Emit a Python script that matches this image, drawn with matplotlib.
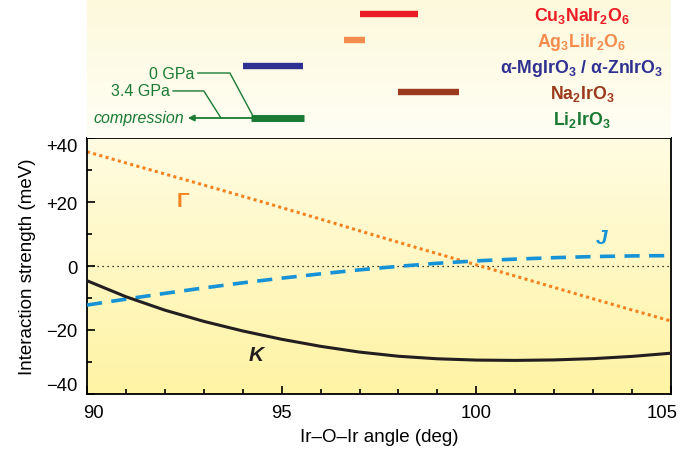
import numpy as np
import matplotlib
matplotlib.use("Agg")
import matplotlib.pyplot as plt
from matplotlib.colors import LinearSegmentedColormap
from matplotlib.transforms import ScaledTranslation

plt.rcParams['font.family'] = ['Liberation Sans', 'DejaVu Sans']
plt.rcParams['mathtext.fontset'] = 'custom'
plt.rcParams['mathtext.rm'] = 'Liberation Sans'
plt.rcParams['mathtext.it'] = 'Liberation Sans:italic'
plt.rcParams['mathtext.bf'] = 'Liberation Sans:bold'
plt.rcParams['mathtext.default'] = 'bf'

# values
angle = [90, 91, 92, 93, 94, 95, 96, 97, 98, 99, 100, 101, 102, 103, 104, 105]
K = [-4.6, -9.6, -13.8, -17.3, -20.3, -22.9, -25.1, -26.9, -28.2, -29.0,
     -29.4, -29.5, -29.35, -28.95, -28.25, -27.25]
J = [-12.2, -10.35, -8.55, -6.85, -5.25, -3.8, -2.45, -1.2, -0.1, 0.85,
     1.6, 2.15, 2.6, 2.95, 3.15, 3.25]
G = [35.7, 32.2, 28.75, 25.3, 21.8, 18.25, 14.65, 11.0, 7.4, 3.85,
     0.35, -3.15, -6.7, -10.25, -13.75, -17.2]

materials = [r'Cu$_3$NaIr$_2$O$_6$', r'Ag$_3$LiIr$_2$O$_6$',
             r'α-MgIrO$_3$ / α-ZnIrO$_3$', r'Na$_2$IrO$_3$', r'Li$_2$IrO$_3$']
ranges = [(97.0, 98.5), (96.6, 97.15), (94.0, 95.55), (98.0, 99.56), (94.2, 95.58)]
mat_colors = ['#ec1c24', '#f58b4c', '#2e3192', '#9b3a1c', '#1a7a34']

fig = plt.figure(figsize=(6.86, 4.56), dpi=100)
ax = fig.add_axes([87/686, 61/456, 584/686, 256/456])
top = fig.add_axes([87/686, 317/456, 584/686, 139/456], sharex=ax)

# background gradients
cm_main = LinearSegmentedColormap.from_list('m', ['#fff3a4', '#fffce2'])
ax.imshow(np.linspace(0, 1, 256).reshape(-1, 1), extent=[90, 105, -40, 40],
          aspect='auto', cmap=cm_main, origin='lower', zorder=0)
cm_top = LinearSegmentedColormap.from_list('t', ['#fdf9dc', '#fffef4'])
top.imshow(np.linspace(0, 1, 256).reshape(-1, 1), extent=[90, 105, 4.77, -0.577],
           aspect='auto', cmap=cm_top, origin='upper', zorder=0)

# main curves
ax.axhline(0, color='black', lw=0.9, ls=(0, (1, 3)), zorder=1)
ax.plot(angle, G, color='#f5821f', lw=2.2, ls=(0, (1, 1.1)), dash_capstyle='butt', zorder=2)
ax.plot(angle, J, color='#1593d6', lw=2.6, ls=(0, (4.2, 2.6)), dash_capstyle='butt', zorder=3)
ax.plot(angle, K, color='#231f20', lw=2.2, zorder=4)

ax.text(92.47, 20.6, 'Γ', color='#f5821f', fontsize=15, fontweight='bold',
        ha='center', va='center')
ax.text(103.22, 9.0, 'J', color='#1593d6', fontsize=15, fontweight='bold',
        fontstyle='italic', ha='center', va='center')
ax.text(94.34, -27.8, 'K', color='#231f20', fontsize=15, fontweight='bold',
        fontstyle='italic', ha='center', va='center')

ax.set_xlim(90, 105)
ax.set_ylim(-40, 40)
ax.set_xticks([90, 95, 100, 105])
ax.set_xticks(np.arange(90, 106, 1), minor=True)
ax.set_yticks([-40, -20, 0, 20, 40])
ax.set_yticks([-30, -10, 10, 30], minor=True)
ax.set_yticklabels(['\u221240', '\u221220', '0', '+20', '+40'])
ax.tick_params(which='both', direction='in', top=False, right=False,
               labelsize=13.3, width=1.2)
ax.tick_params(which='major', length=6, pad=7)
ax.tick_params(which='minor', length=3.5)
for s in ax.spines.values():
    s.set_linewidth(1.3)

ylabs = ax.get_yticklabels()
ylabs[-1].set_va('top')
ylabs[0].set_va('bottom')
xlabs = ax.get_xticklabels()
xlabs[0].set_transform(xlabs[0].get_transform() + ScaledTranslation(6/100, 0, fig.dpi_scale_trans))
xlabs[-1].set_transform(xlabs[-1].get_transform() + ScaledTranslation(-9/100, 0, fig.dpi_scale_trans))

ax.set_xlabel('Ir\u2013O\u2013Ir angle (deg)', fontsize=13.5, labelpad=5)
ax.set_ylabel('Interaction strength (meV)', fontsize=13.5, labelpad=7)

# top panel: angle ranges of materials
for i, (lo, hi) in enumerate(ranges):
    top.plot([lo, hi], [i, i], color=mat_colors[i], lw=4.6 if i < 4 else 5.0,
             solid_capstyle='butt', zorder=3)
    top.text(102.71, i + 0.05, materials[i], color=mat_colors[i], fontsize=12.8,
             fontweight='bold', ha='center', va='center')

green = mat_colors[4]
top.annotate('', xy=(92.59, 4), xytext=(94.25, 4),
             arrowprops=dict(arrowstyle='-|>', color=green, lw=1.3,
                             mutation_scale=9, shrinkA=0, shrinkB=0))
top.plot([92.85, 93.67, 94.29], [2.27, 2.27, 4], color=green, lw=1.0)
top.plot([92.21, 93.0, 93.44], [2.96, 2.96, 4], color=green, lw=1.0)
top.text(92.77, 2.27, '0 GPa', color=green, fontsize=11.5, ha='right', va='center')
top.text(92.13, 2.96, '3.4 GPa', color=green, fontsize=11.5, ha='right', va='center')
top.text(92.5, 4, 'compression', color=green, fontsize=11.5, fontstyle='italic',
         ha='right', va='center')

top.set_ylim(4.77, -0.577)
top.axis('off')

fig.savefig('out.png', dpi=100)
